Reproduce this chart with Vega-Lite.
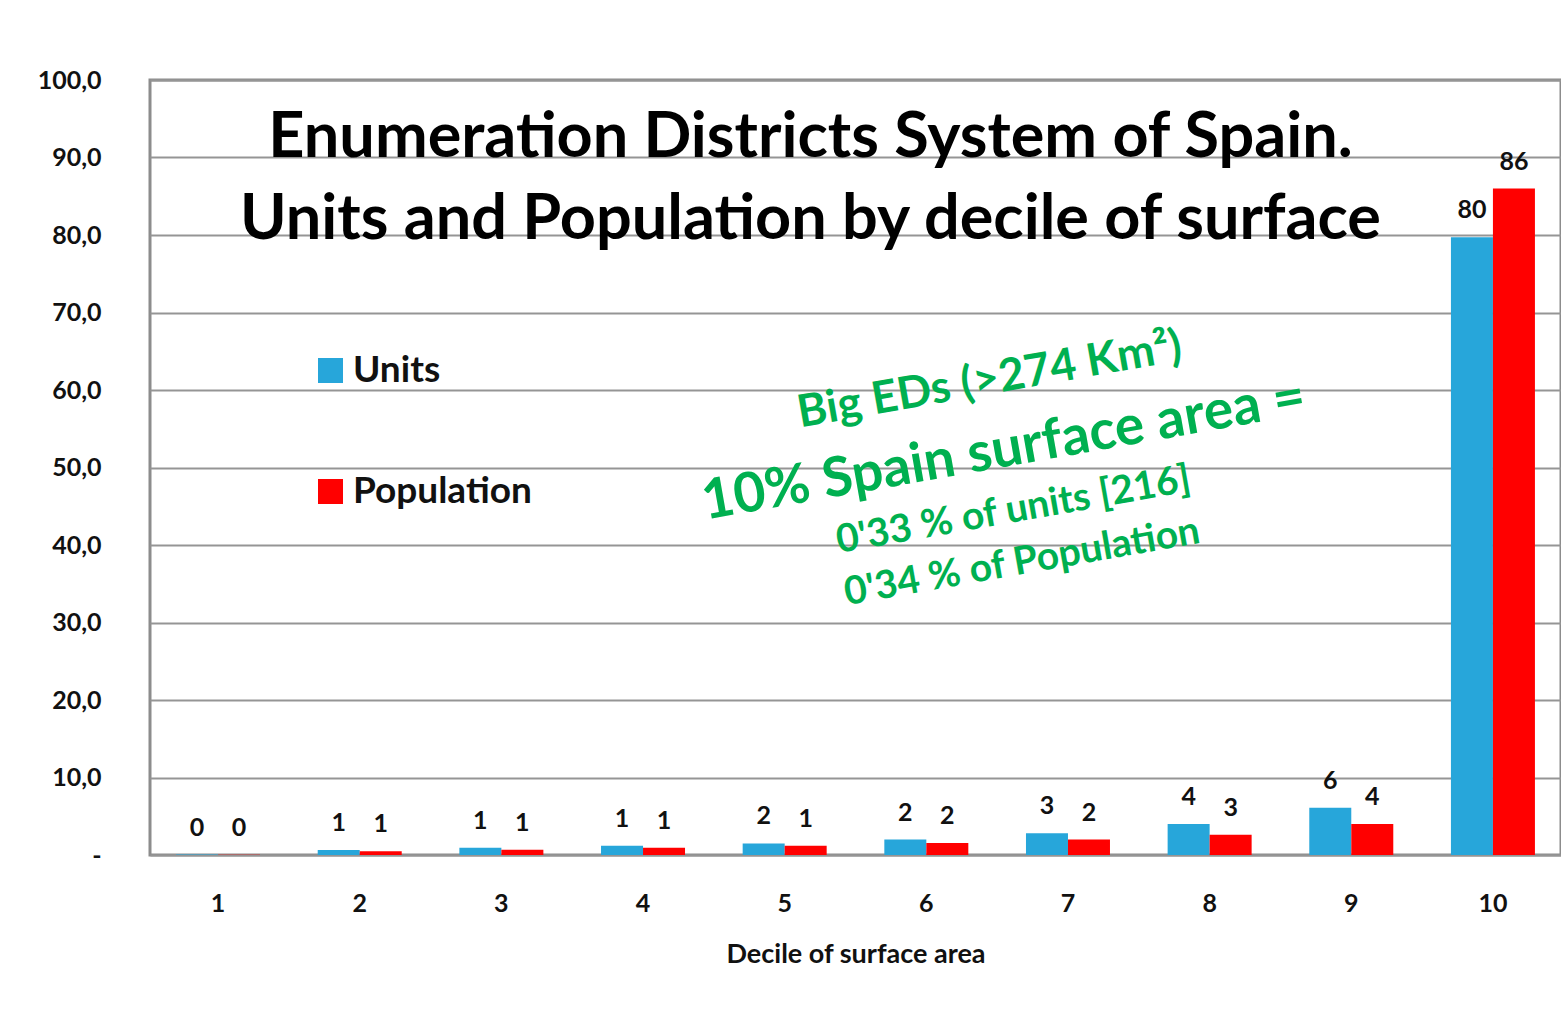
{
  "$schema": "https://vega.github.io/schema/vega-lite/v6.json",
  "width": 1411,
  "height": 775,
  "autosize": {"type": "none"},
  "padding": {"left": 150, "top": 80, "right": 0, "bottom": 169},
  "background": "white",
  "config": {
    "view": {"stroke": "#8c8c8c", "strokeWidth": 3},
    "font": "Lato"
  },
  "title": {
    "text": ["Enumeration Districts System of Spain.", "Units and Population by decile of surface"],
    "fontSize": 63,
    "font": "Lato",
    "fontWeight": "bold",
    "color": "black",
    "anchor": "middle",
    "frame": "group",
    "orient": "top",
    "offset": -184,
    "lineHeight": 82,
    "dx": -45
  },
  "datasets": {
    "bars": [
      {"decile": "1", "series": "Units", "value": 0.05},
      {"decile": "1", "series": "Population", "value": 0.03},
      {"decile": "2", "series": "Units", "value": 0.65},
      {"decile": "2", "series": "Population", "value": 0.5},
      {"decile": "3", "series": "Units", "value": 0.94},
      {"decile": "3", "series": "Population", "value": 0.68},
      {"decile": "4", "series": "Units", "value": 1.2},
      {"decile": "4", "series": "Population", "value": 0.94},
      {"decile": "5", "series": "Units", "value": 1.5},
      {"decile": "5", "series": "Population", "value": 1.2},
      {"decile": "6", "series": "Units", "value": 2.0},
      {"decile": "6", "series": "Population", "value": 1.55},
      {"decile": "7", "series": "Units", "value": 2.8},
      {"decile": "7", "series": "Population", "value": 2.0},
      {"decile": "8", "series": "Units", "value": 4.0},
      {"decile": "8", "series": "Population", "value": 2.6},
      {"decile": "9", "series": "Units", "value": 6.1},
      {"decile": "9", "series": "Population", "value": 4.0},
      {"decile": "10", "series": "Units", "value": 79.7},
      {"decile": "10", "series": "Population", "value": 86.0}
    ]
  },
  "layer": [
    {
      "data": {"name": "bars"},
      "encoding": {
        "x": {
          "field": "decile",
          "type": "ordinal",
          "sort": ["1", "2", "3", "4", "5", "6", "7", "8", "9", "10"],
          "scale": {"paddingInner": 0.407, "paddingOuter": 0.184},
          "axis": {
            "title": "Decile of surface  area",
            "labelAngle": 0,
            "ticks": false,
            "domain": false,
            "labelFontSize": 25,
            "labelFontWeight": "bold",
            "labelColor": "#111111",
            "labelPadding": 36,
            "titleFontSize": 27,
            "titleFontWeight": "bold",
            "titleColor": "#111111",
            "titlePadding": 25
          }
        },
        "xOffset": {"field": "series", "type": "nominal", "sort": ["Units", "Population"]},
        "y": {
          "field": "value",
          "type": "quantitative",
          "scale": {"domain": [0, 100], "nice": false},
          "axis": {
            "title": null,
            "values": [0, 10, 20, 30, 40, 50, 60, 70, 80, 90, 100],
            "labelExpr": "datum.value == 0 ? '-  ' : replace(format(datum.value, '.1f'), '.', ',')",
            "labelFontSize": 25,
            "labelFontWeight": "bold",
            "labelColor": "#111111",
            "labelPadding": 49,
            "ticks": false,
            "domain": false,
            "grid": true,
            "gridColor": "#959595",
            "gridWidth": 2
          }
        }
      },
      "layer": [
        {
          "mark": {"type": "bar"},
          "encoding": {
            "color": {
              "field": "series",
              "type": "nominal",
              "sort": ["Units", "Population"],
              "scale": {"domain": ["Units", "Population"], "range": ["#27A6DA", "#FF0000"]},
              "legend": {
                "title": null,
                "orient": "none",
                "legendX": 162,
                "legendY": 272,
                "symbolType": "square",
                "symbolSize": 625,
                "symbolStrokeWidth": 0,
                "labelFontSize": 37,
                "labelFontWeight": "bold",
                "labelColor": "#111111",
                "labelOffset": 4,
                "labelLimit": 0,
                "rowPadding": 83
              }
            }
          }
        },
        {
          "mark": {"type": "text", "fontSize": 25, "fontWeight": "bold", "color": "#111111", "baseline": "middle", "dy": -27},
          "encoding": {
            "text": {"field": "value", "type": "quantitative", "format": ".0f"}
          }
        }
      ]
    },
    {
      "data": {"values": [{}]},
      "mark": {"type": "text", "text": "Big EDs (>274 Km²)", "fontSize": 45, "fontWeight": "bold", "color": "#00B050", "angle": -10, "align": "center", "baseline": "middle"},
      "encoding": {
        "x": {"datum": 5.95, "type": "quantitative", "scale": {"domain": [0, 10]}, "axis": null},
        "y": {"datum": 61.3, "type": "quantitative"}
      }
    },
    {
      "data": {"values": [{}]},
      "mark": {"type": "text", "text": "10% Spain surface area =", "fontSize": 55, "fontWeight": "bold", "color": "#00B050", "angle": -10, "align": "center", "baseline": "middle"},
      "encoding": {
        "x": {"datum": 6.05, "type": "quantitative", "scale": {"domain": [0, 10]}, "axis": null},
        "y": {"datum": 52.3, "type": "quantitative"}
      }
    },
    {
      "data": {"values": [{}]},
      "mark": {"type": "text", "text": "0'33 % of units [216]", "fontSize": 39, "fontWeight": "bold", "color": "#00B050", "angle": -10, "align": "center", "baseline": "middle"},
      "encoding": {
        "x": {"datum": 6.12, "type": "quantitative", "scale": {"domain": [0, 10]}, "axis": null},
        "y": {"datum": 44.5, "type": "quantitative"}
      }
    },
    {
      "data": {"values": [{}]},
      "mark": {"type": "text", "text": "0'34 % of Population", "fontSize": 39, "fontWeight": "bold", "color": "#00B050", "angle": -10, "align": "center", "baseline": "middle"},
      "encoding": {
        "x": {"datum": 6.18, "type": "quantitative", "scale": {"domain": [0, 10]}, "axis": null},
        "y": {"datum": 37.8, "type": "quantitative"}
      }
    }
  ],
  "resolve": {"scale": {"x": "independent"}}
}
